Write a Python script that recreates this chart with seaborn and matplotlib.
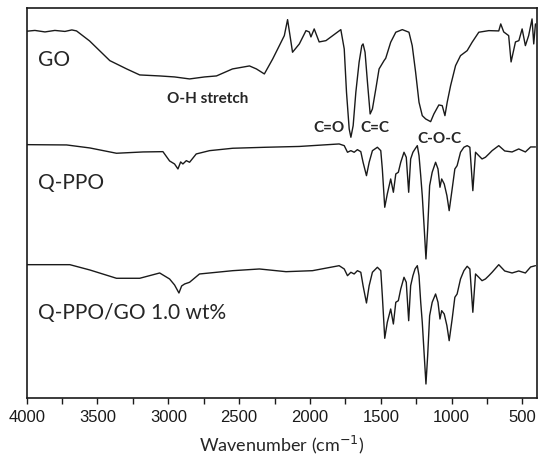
import pandas as pd
import matplotlib
matplotlib.use('Agg')
import matplotlib.pyplot as plt
import seaborn as sns
from matplotlib.ticker import MultipleLocator

# FTIR spectra, wavenumber (cm-1) vs. offset transmittance (arbitrary units)
go_wn = [4000, 3942, 3871, 3801, 3730, 3681, 3648, 3556, 3413, 3294, 3202, 3061, 2956,
         2850, 2744, 2660, 2547, 2427, 2378, 2322, 2263, 2216, 2181, 2158, 2123, 2075,
         2028, 2005, 1993, 1970, 1935, 1887,
         1782, 1758, 1742, 1723, 1711, 1695, 1676, 1653, 1634, 1625, 1611, 1594, 1575,
         1559, 1535, 1512, 1477, 1465, 1430, 1394, 1348, 1301, 1278, 1254, 1230, 1207,
         1183, 1148, 1125, 1090, 1066, 1047, 1031, 1007, 972, 937, 890, 855, 808,
         737, 667, 653, 632, 597, 580, 549, 525, 502, 479, 456, 432, 420, 408]
go_t = [366.7, 367.5, 366, 367.5, 366.5, 368, 367, 357, 337.3, 329, 323, 322, 321,
        319, 321, 322, 329, 332, 329, 324, 339, 352.3, 362.3, 378.3, 345.7, 354,
        367.3, 366, 361, 369, 356, 357.3,
        368.3, 349, 305.7, 269, 260.7, 272.3, 305.7, 335.7, 352.3, 354, 345.7, 315.7, 284,
        289, 309, 329, 337.3, 339.7, 355.7, 365.7, 368.3, 365.7, 352.3, 325.7, 295.7, 282.3,
        279, 276.3, 284, 293, 292.3, 282.3, 295.7, 312.3, 332.3, 342.3, 347.3, 355.7, 365.7,
        367.3, 367, 374, 366, 362.3, 336, 356, 357.3, 369, 352.3, 362.3, 379, 354, 374]

qppo_wn = [4000, 3718, 3554, 3366, 3179, 3038, 2991, 2956, 2932, 2913, 2897, 2873, 2850,
           2803, 2709, 2545, 2310, 2075,
           1794, 1758, 1735, 1711, 1688, 1665, 1641, 1625, 1601, 1582, 1559, 1524, 1500,
           1489, 1472, 1454, 1430, 1411, 1394, 1376, 1359, 1336, 1320, 1303, 1289, 1273,
           1258, 1242, 1230, 1218, 1207, 1193, 1181, 1169, 1155, 1137, 1113, 1096, 1082,
           1070, 1052, 1033, 1017, 996, 977, 961, 937, 913, 890, 871, 850, 831, 808, 785,
           761, 737, 714, 667, 625, 573, 526, 479, 442, 408]
qppo_t = [253.3, 253, 250, 244.7, 246, 246.3, 237, 234, 229, 236, 234, 237.3, 235.7,
          244, 247.3, 249.7, 250.7, 251.5,
          254, 252.3, 245.7, 247.3, 245.7, 248.3, 246.3, 235.7, 222.3, 235.7, 247.3, 250.7, 247.3,
          229, 190.7, 204, 219, 205.7, 224, 225.7, 235.7, 245.7, 240.7, 205.7, 239, 245.7,
          249, 252.3, 242.3, 222.3, 202.3, 169, 139, 169, 212.3, 225.7, 235.7, 229, 210.7,
          219, 214, 202.3, 187.3, 209, 229, 232.3, 245.7, 250.7, 252.3, 250.7, 207.3, 245.7, 242.3, 239,
          240.7, 244, 247.3, 252.3, 247, 246, 249, 246, 251, 251]

comp_wn = [4000, 3695, 3554, 3366, 3202, 3061, 2991, 2956, 2925, 2906, 2885, 2850, 2780,
           2545, 2357, 2169, 1982,
           1794, 1758, 1735, 1711, 1688, 1665, 1641, 1625, 1601, 1582, 1559, 1524, 1500,
           1489, 1472, 1454, 1430, 1411, 1394, 1376, 1359, 1336, 1320, 1303, 1289, 1273,
           1258, 1242, 1230, 1218, 1207, 1193, 1181, 1169, 1155, 1137, 1113, 1096, 1082,
           1070, 1052, 1033, 1017, 996, 977, 961, 937, 913, 890, 871, 850, 831, 808, 785,
           761, 737, 714, 667, 625, 573, 526, 479, 442, 408]
comp_t = [133.3, 133.3, 128, 119.7, 119.7, 125, 119, 113, 105, 112, 114, 115.7, 124,
          127.3, 129, 126.3, 127.3,
          132.3, 129, 122.3, 125.7, 124, 127.3, 125.7, 112.3, 95, 112.3, 125.7, 130.7, 127.3,
          102.3, 59.7, 75.7, 89, 74, 95.7, 97.3, 109, 120.7, 115.7, 77.3, 112.3, 122.3,
          129, 132.3, 122.3, 95.7, 75.7, 42.3, 14, 42.3, 82.3, 95.7, 104, 95.7, 79,
          87.3, 84, 72.3, 57.3, 79, 100.7, 104, 119, 127.3, 131.7, 129, 85.7, 124, 120.7, 117.3,
          119, 122.3, 125.7, 133.3, 127, 125, 127, 125, 131, 132.3]

sample_names = ['GO', 'Q-PPO', 'Q-PPO/GO 1.0 wt%']
band_labels = ['O-H stretch', 'C=O', 'C=C', 'C-O-C']

df = pd.concat([
    pd.DataFrame({'wn': go_wn, 't': go_t, 'sample': sample_names[0]}),
    pd.DataFrame({'wn': qppo_wn, 't': qppo_t, 'sample': sample_names[1]}),
    pd.DataFrame({'wn': comp_wn, 't': comp_t, 'sample': sample_names[2]}),
])

sns.set_style('ticks')
plt.rcParams['font.family'] = ['Liberation Sans', 'DejaVu Sans']

fig = plt.figure(figsize=(5.39, 4.60), dpi=100)
ax = fig.add_axes([0.0495, 0.1326, 0.946, 0.848])

for name in sample_names:
    sns.lineplot(data=df[df['sample'] == name], x='wn', y='t', ax=ax,
                 color='#1a1a1a', linewidth=1.0, sort=False, estimator=None)

ax.set_xlim(4000, 400)
ax.set_ylim(0, 390)
ax.xaxis.set_major_locator(MultipleLocator(500))
ax.xaxis.set_minor_locator(MultipleLocator(250))
ax.tick_params(axis='x', which='both', direction='out', length=4, width=1,
               labelsize=12, pad=4, colors='#1a1a1a')
ax.set_yticks([])
ax.set_ylabel('')
ax.set_xlabel('Wavenumber (cm$^{-1}$)', fontsize=13, family='Lato', labelpad=6)
for s in ax.spines.values():
    s.set_visible(True)
    s.set_linewidth(1.2)
    s.set_color('#1a1a1a')

label_y = [339, 216, 86]
for name, y in zip(sample_names, label_y):
    ax.text(3920, y, name, fontsize=15, family='Lato', ha='left', va='center')

band_x = [2722, 1864, 1540, 1089]
band_y = [300, 271, 271, 260]
for lab, x, y in zip(band_labels, band_x, band_y):
    ax.text(x, y, lab, fontsize=11, family='Lato', weight='bold', ha='center', va='center')

fig.savefig('out.png', dpi=100)
